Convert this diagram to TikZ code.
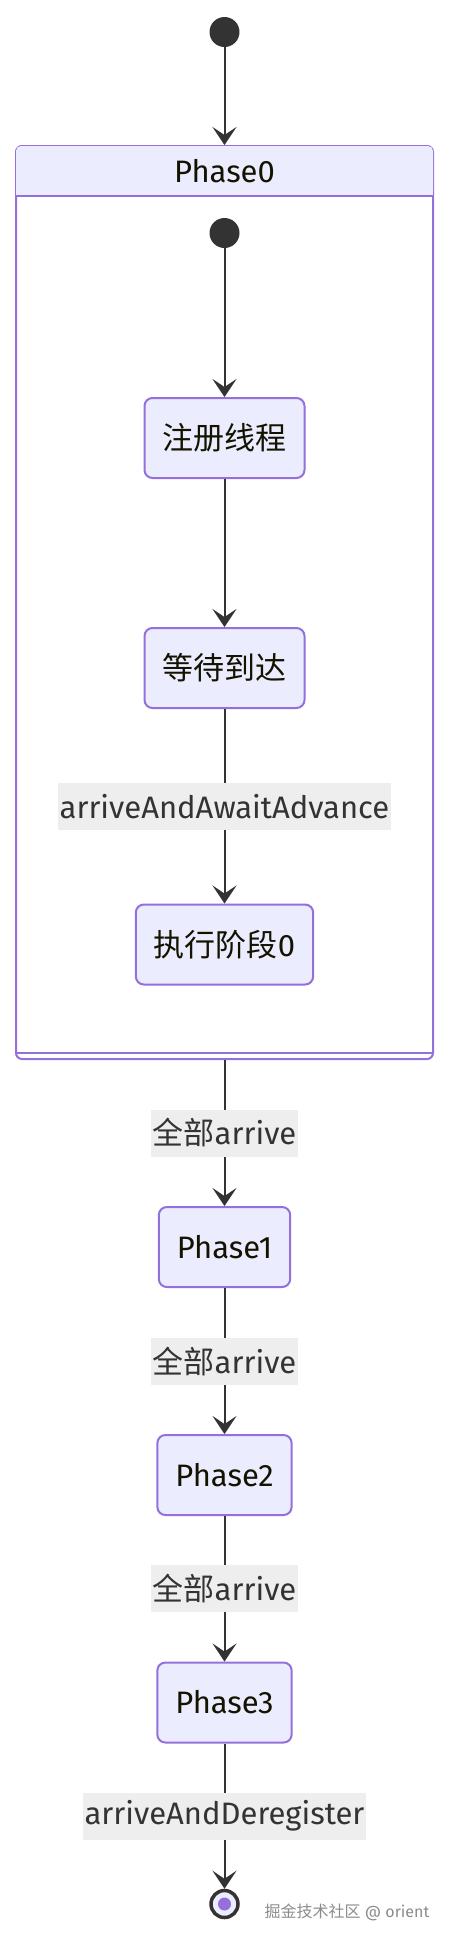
\documentclass[tikz,border=0pt]{standalone}
\usepackage{fontspec}
\setmainfont{Fira Sans}
\newfontfamily\cjk{Noto Sans CJK SC}
\usetikzlibrary{arrows.meta}

\definecolor{statefill}{HTML}{ECECFF}
\definecolor{stateline}{HTML}{9370DB}
\definecolor{edgeline}{HTML}{333333}
\definecolor{labelbg}{HTML}{EEEEEE}
\definecolor{nodetext}{HTML}{131300}
\definecolor{marktext}{HTML}{8C8C8C}

\tikzset{
  state/.style={draw=stateline, fill=statefill, line width=2pt, rounded corners=8pt,
    minimum height=80pt, inner xsep=18pt, text=nodetext, font=\fontsize{31}{37}\selectfont},
  composite/.style={draw=stateline, fill=white, line width=2pt, rounded corners=6pt},
  pseudo/.style={circle, fill=edgeline, minimum size=30pt, inner sep=0pt},
  endstate/.style={circle, draw=edgeline, fill=statefill, line width=3.5pt, minimum size=27pt, inner sep=0pt},
  trans/.style={draw=edgeline, line width=2pt, -{Stealth[length=18pt, width=24pt, inset=8pt]}},
  translabel/.style={fill=labelbg, text=edgeline, inner xsep=2pt, inner ysep=0pt,
    minimum height=47pt, font=\fontsize{31}{37}\selectfont},
  watermark/.style={text=marktext, font=\fontsize{16}{19}\selectfont}
}

\begin{document}
\begin{tikzpicture}[x=1pt, y=-1pt]
  \useasboundingbox (0,0) rectangle (449,1936);

  % Start point
  \node[pseudo] (start) at (224.5,32) {};

  % Composite state Phase0
  \node[composite, minimum width=417pt, minimum height=913pt] (phase0) at (224.5,602.5) {};
  \fill[statefill, rounded corners=5pt] ([shift={(1,1)}]phase0.north west) rectangle ([shift={(-1,51)}]phase0.north east);
  \fill[statefill] ([shift={(1,30)}]phase0.north west) rectangle ([shift={(-1,51)}]phase0.north east);
  \draw[stateline, line width=2pt] ([yshift=-51pt]phase0.north west) -- ([yshift=-51pt]phase0.north east);
  \draw[stateline, line width=2pt] ([yshift=7pt]phase0.south west) -- ([yshift=7pt]phase0.south east);
  \node[text=nodetext, font=\fontsize{31}{37}\selectfont] (phase0title) at ([yshift=-26pt]phase0.north) {Phase0};

  % Inner states
  \node[pseudo] (innerstart) at (224.5,233) {};
  \node[state] (register) at (224.5,438) {\cjk 注册线程};
  \node[state] (wait) at (224.5,668) {\cjk 等待到达};
  \node[state] (exec) at (224.5,944.5) {{\cjk 执行阶段}0};

  % Outer states
  \node[state] (phase1) at (224.5,1247) {Phase1};
  \node[state] (phase2) at (224.5,1475) {Phase2};
  \node[state] (phase3) at (224.5,1702.5) {Phase3};
  \node[endstate] (finish) at (224.5,1904) {};
  \fill[stateline] (finish) circle (6.5pt);

  % Transitions
  \draw[trans] (start) -- (phase0.north);
  \draw[trans] (innerstart) -- (register);
  \draw[trans] (register) -- (wait);
  \draw[trans] (wait) -- node[translabel] {arriveAndAwaitAdvance} (exec);
  \draw[trans] (phase0.south) -- node[translabel] {{\cjk 全部}arrive} (phase1);
  \draw[trans] (phase1) -- node[translabel] {{\cjk 全部}arrive} (phase2);
  \draw[trans] (phase2) -- node[translabel] {{\cjk 全部}arrive} (phase3);
  \draw[trans] (phase3) -- node[translabel] {arriveAndDeregister} (finish);

  \node[watermark] (mark) at (347,1912) {{\cjk 掘金技术社区} @ orient};
\end{tikzpicture}
\end{document}
